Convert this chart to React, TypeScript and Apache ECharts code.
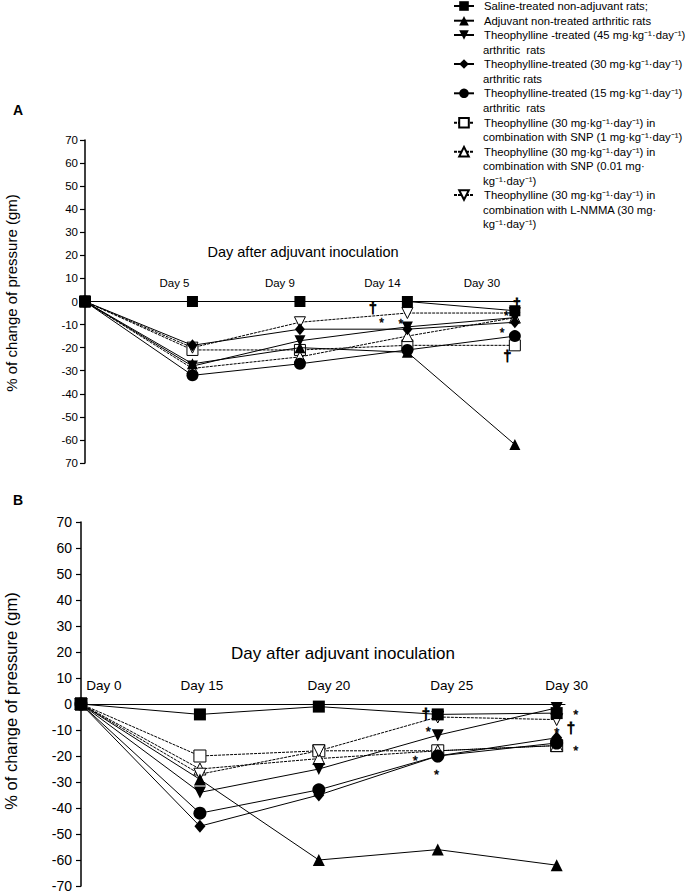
import React, { useEffect, useRef } from 'react';
import * as echarts from 'echarts';

const FONT = '"Liberation Sans", Arial, Helvetica, sans-serif';

// ---------- data ----------
const seriesNames = [
  'Saline-treated non-adjuvant rats;',
  'Adjuvant non-treated arthritic rats',
  'Theophylline -treated (45 mg·kg⁻¹·day⁻¹)\narthritic  rats',
  'Theophylline-treated (30 mg·kg⁻¹·day⁻¹)\narthritic rats',
  'Theophylline-treated (15 mg·kg⁻¹·day⁻¹)\narthritic  rats',
  'Theophylline (30 mg·kg⁻¹·day⁻¹) in\ncombination with SNP (1 mg·kg⁻¹·day⁻¹)',
  'Theophylline (30 mg·kg⁻¹·day⁻¹) in\ncombination with SNP (0.01 mg·\nkg⁻¹·day⁻¹)',
  'Theophylline (30 mg·kg⁻¹·day⁻¹) in\ncombination with L-NMMA (30 mg·\nkg⁻¹·day⁻¹)',
];

const xLabelsA = ['', 'Day 5', 'Day 9', 'Day 14', 'Day 30'];
const xLabelsB = ['Day 0', 'Day 15', 'Day 20', 'Day 25', 'Day 30'];
const yLabelsA = ['70', '60', '50', '40', '30', '20', '10', '0', '-10', '-20', '-30', '-40', '-50', '-60', '70'];
const yLabelsB = ['70', '60', '50', '40', '30', '20', '10', '0', '-10', '-20', '-30', '-40', '-50', '-60', '-70'];

const xTitle = 'Day after adjuvant inoculation';
const yTitle = '% of change of pressure (gm)';

// Panel A values (Day 0, 5, 9, 14, 30)
const salineA = [0, 0, 0, 0, -4];
const adjuvantA = [0, -27, -20, -22, -62];
const theo45A = [0, -28, -17, -11, -7];
const theo30A = [0, -19, -12, -12, -9];
const theo15A = [0, -32, -27, -21, -15];
const snp1A = [0, -21, -21, -19, -19];
const snp001A = [0, -29, -24, -15, -7];
const lnmmaA = [0, -20, -9, -5, -5];

// Panel B values (Day 0, 15, 20, 25, 30)
const salineB = [0, -4, -1, -4, -3.5];
const adjuvantB = [0, -29, -60, -56, -62];
const theo45B = [0, -34, -25, -12, -1.5];
const theo30B = [0, -47, -35, -20, -13];
const theo15B = [0, -42, -33, -20, -15];
const snp1B = [0, -20, -18, -18, -16];
const snp001B = [0, -25, -21, -18, -16];
const lnmmaB = [0, -27, -18, -5, -6];

// significance marks [x position (day index), y value, text]
const annotationsA: [number, number, string][] = [
  [2.68, -3, '†'],
  [2.76, -8.1, '*'],
  [2.94, -8.5, '*'],
  [3.92, -4.8, '*'],
  [3.88, -12.2, '*'],
  [3.93, -23.8, '†'],
  [4.02, -1.3, '†'],
];
const annotationsB: [number, number, string][] = [
  [2.9, -3.5, '†'],
  [2.92, -9.6, '*'],
  [2.81, -20.6, '*'],
  [2.99, -26, '*'],
  [4.16, -2.8, '*'],
  [4.12, -9.2, '†'],
  [4.0, -9.7, '*'],
  [4.16, -16.7, '*'],
];

const valuesA = [salineA, adjuvantA, theo45A, theo30A, theo15A, snp1A, snp001A, lnmmaA];
const valuesB = [salineB, adjuvantB, theo45B, theo30B, theo15B, snp1B, snp001B, lnmmaB];

// ---------- styles ----------
const markerStyles = [
  { symbol: 'rect', rotate: 0, hollow: false },
  { symbol: 'triangle', rotate: 0, hollow: false },
  { symbol: 'triangle', rotate: 180, hollow: false },
  { symbol: 'diamond', rotate: 0, hollow: false },
  { symbol: 'circle', rotate: 0, hollow: false },
  { symbol: 'rect', rotate: 0, hollow: true },
  { symbol: 'triangle', rotate: 0, hollow: true },
  { symbol: 'triangle', rotate: 180, hollow: true },
];
const legendCenters = [6, 20.7, 35, 64, 93.3, 122.7, 151.7, 195];
const legendLine = 14.5;
const legendFont = 11.3;
const legendLeft = 453;
const legendTextX = 483;

const labelShiftA = [0, -18, -20, -25, -33];
const labelShiftB = [23, 2, 10, 14, 10];

function makeRich(shifts: number[], fontSize: number) {
  const rich: Record<string, any> = {};
  shifts.forEach((s, i) => {
    rich['l' + i] = {
      fontSize,
      fontFamily: FONT,
      color: '#000',
      padding: s < 0 ? [0, -2 * s, 0, 0] : [0, 0, 0, 2 * s],
    };
  });
  return rich;
}

function makeXAxis(gridIndex: number, max: number, offset: number, labels: string[], shifts: number[], fontSize: number, margin: number) {
  return {
    type: 'value',
    gridIndex,
    position: 'bottom',
    offset,
    min: 0,
    max,
    interval: 1,
    axisLine: { show: true, onZero: false, lineStyle: { color: '#000', width: 1 } },
    axisTick: { show: false },
    splitLine: { show: false },
    axisLabel: {
      inside: true,
      margin,
      color: '#000',
      fontSize,
      fontFamily: FONT,
      formatter: (v: number) => {
        const i = Math.round(v);
        if (Math.abs(v - i) > 1e-6 || !labels[i]) return '';
        return `{l${i}|${labels[i]}}`;
      },
      rich: makeRich(shifts, fontSize),
    },
  };
}

function makeYAxis(gridIndex: number, labels: string[], fontSize: number, margin: number) {
  return {
    type: 'value',
    gridIndex,
    min: -70,
    max: 70,
    interval: 10,
    axisLine: { show: true, onZero: false, lineStyle: { color: '#000', width: 1.5 } },
    axisTick: { show: true, length: 5, lineStyle: { color: '#000', width: 1.2 } },
    splitLine: { show: false },
    axisLabel: {
      margin,
      color: '#000',
      fontSize,
      fontFamily: FONT,
      formatter: (v: number) => labels[Math.round((70 - v) / 10)] ?? '',
    },
  };
}

function makeSeries(idx: number, values: number[], gridIndex: number, size: number) {
  const m = markerStyles[idx];
  return {
    type: 'line',
    name: seriesNames[idx],
    xAxisIndex: gridIndex,
    yAxisIndex: gridIndex,
    data: values.map((v, i) => [i, v]),
    symbol: m.symbol,
    symbolRotate: m.rotate,
    symbolSize: m.symbol === 'diamond' ? [size - 1, size + 1] : m.symbol === 'circle' ? size + 1 : size,
    showSymbol: true,
    showAllSymbol: true,
    clip: false,
    lineStyle: { color: '#000', width: 1, type: m.hollow ? [3, 1] : 'solid' },
    itemStyle: { color: m.hollow ? '#fff' : '#000', borderColor: '#000', borderWidth: m.hollow ? 1 : 0 },
    emphasis: { disabled: true },
    z: m.hollow ? 2 : 3,
  };
}

function textEl(id: string, x: number, y: number, text: string, fontSize: number, extra: any = {}) {
  const { align, fontWeight, stroke, ...rest } = extra;
  return {
    type: 'text',
    id,
    x,
    y,
    silent: true,
    z: 10,
    ...rest,
    style: {
      text,
      fontSize,
      fontFamily: FONT,
      fill: '#000',
      align: align || 'center',
      verticalAlign: 'middle',
      fontWeight: fontWeight || 'normal',
      ...(stroke ? { stroke: '#000', lineWidth: stroke } : {}),
    },
  };
}

export default function App() {
  const ref = useRef<HTMLDivElement>(null);

  useEffect(() => {
    if (!ref.current) return;
    const chart = echarts.init(ref.current, null, { renderer: 'svg' });

    const legends = seriesNames.map((name, i) => ({
      show: true,
      left: legendLeft,
      top: legendCenters[i] - legendLine / 2,
      orient: 'vertical',
      padding: 0,
      itemWidth: 20,
      itemHeight: 12,
      itemGap: 0,
      selectedMode: false,
      data: [name],
      formatter: (n: string) => n.split('\n')[0],
      textStyle: {
        fontSize: legendFont,
        fontFamily: FONT,
        color: '#000',
        lineHeight: legendLine,
        padding: [0, 0, 0, 5],
      },
    }));

    const series: any[] = [];
    // hollow first so filled markers sit on top
    [5, 6, 7, 1, 2, 3, 4, 0].forEach((i) => {
      series.push(makeSeries(i, valuesA[i], 0, 11));
      series.push(makeSeries(i, valuesB[i], 1, 12));
    });

    const baseGraphics: any[] = [
      textEl('lblA', 18, 110, 'A', 14, { fontWeight: 'bold' }),
      textEl('lblB', 18, 500, 'B', 14, { fontWeight: 'bold' }),
      textEl('xtA', 303, 252, xTitle, 14.5),
      textEl('xtB', 343, 653, xTitle, 17),
      textEl('ytA', 11, 293, yTitle, 15, { rotation: Math.PI / 2 }),
      textEl('ytB', 11, 701, yTitle, 16.5, { rotation: Math.PI / 2 }),
    ];
    // continuation lines of multi-line legend entries
    seriesNames.forEach((name, i) => {
      name.split('\n').slice(1).forEach((line, k) => {
        baseGraphics.push(
          textEl(`leg${i}_${k}`, legendTextX, legendCenters[i] + (k + 1) * legendLine, line, legendFont, { align: 'left' })
        );
      });
    });

    const option: any = {
      animation: false,
      backgroundColor: '#fff',
      textStyle: { fontFamily: FONT, color: '#000' },
      legend: legends,
      grid: [
        { left: 85, top: 140, width: 432, height: 323, outerBoundsMode: 'none', containLabel: false },
        { left: 81, top: 522, width: 484, height: 364, outerBoundsMode: 'none', containLabel: false },
      ],
      xAxis: [
        makeXAxis(0, 4.02, -161.5, xLabelsA, labelShiftA, 11.5, 13),
        makeXAxis(1, 4.07, -182, xLabelsB, labelShiftB, 13.5, 12),
      ],
      yAxis: [makeYAxis(0, yLabelsA, 11.5, 7), makeYAxis(1, yLabelsB, 14, 9)],
      series,
      graphic: baseGraphics,
    };

    chart.setOption(option);

    // significance marks placed in data coordinates through the axes
    const annGraphics: any[] = [];
    [annotationsA, annotationsB].forEach((list, g) => {
      list.forEach(([x, y, t], k) => {
        const p = chart.convertToPixel({ gridIndex: g }, [x, y]) as number[];
        const isStar = t === '*';
        const size = isStar ? (g === 0 ? 12 : 13) : g === 0 ? 14 : 15;
        annGraphics.push(
          textEl(`ann${g}_${k}`, p[0], p[1] + (isStar ? 3 : 0), t, size, { stroke: isStar ? 0.4 : 0.8 })
        );
      });
    });
    chart.setOption({ graphic: [...baseGraphics, ...annGraphics] });

    return () => chart.dispose();
  }, []);

  return (
    <div
      ref={ref}
      style={{ position: 'fixed', left: 0, top: 0, width: 691, height: 894, background: '#fff' }}
    />
  );
}
